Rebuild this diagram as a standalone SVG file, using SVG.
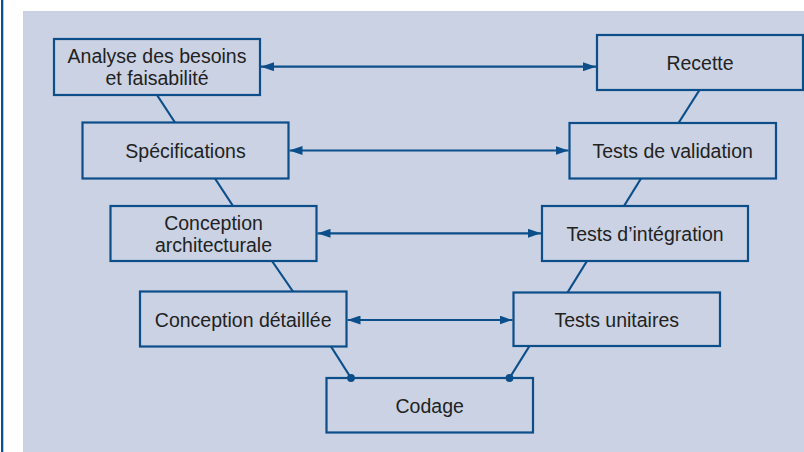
<svg xmlns="http://www.w3.org/2000/svg" width="804" height="452" viewBox="0 0 804 452">
<style>
.box{fill:none;stroke:#0b4e8a;stroke-width:2.2}
.ln{stroke:#0b4e8a;stroke-width:2.2;fill:none}
.arr{stroke:#0b4e8a;stroke-width:2.2;fill:none;marker-start:url(#ah);marker-end:url(#ah)}
text{font-family:"Liberation Sans",Arial,sans-serif;font-size:19.5px;fill:#222;text-anchor:middle}
</style>
<defs>
<marker id="ah" markerUnits="userSpaceOnUse" markerWidth="13" markerHeight="9" refX="13" refY="4.5" orient="auto-start-reverse">
<path d="M0,0 L13,4.5 L0,9 Z" fill="#0b4e8a"/>
</marker>
</defs>
<rect x="0" y="0" width="804" height="452" fill="#fff"/>
<rect x="1" y="0" width="2.3" height="452" fill="#0b4e8a"/>
<rect x="23" y="11" width="781" height="441" fill="#cad2e3"/>
<g id="connectors">
<line class="ln" x1="157" y1="95" x2="175" y2="122.5"/>
<line class="ln" x1="699.5" y1="90" x2="678.5" y2="123"/>
<line class="ln" x1="215" y1="178.5" x2="233" y2="206"/>
<line class="ln" x1="641" y1="178.5" x2="624" y2="206"/>
<line class="ln" x1="272" y1="261" x2="293" y2="291.5"/>
<line class="ln" x1="587" y1="261" x2="567.5" y2="292.5"/>
<line class="ln" x1="331" y1="346.5" x2="351" y2="378"/>
<line class="ln" x1="529.5" y1="346" x2="509.5" y2="378"/>
<circle cx="351" cy="378" r="3.9" fill="#0b4e8a"/>
<circle cx="509.5" cy="378" r="3.9" fill="#0b4e8a"/>
<line class="arr" x1="261" y1="66.7" x2="596" y2="66.7"/>
<line class="arr" x1="289.5" y1="150.5" x2="568.5" y2="150.5"/>
<line class="arr" x1="317.5" y1="233.3" x2="541" y2="233.3"/>
<line class="arr" x1="347.5" y1="320" x2="512.5" y2="320"/>
</g>
<g id="analyse"><rect class="box" x="54" y="39" width="206" height="56"/><text x="157" y="63.3">Analyse des besoins</text><text x="157" y="85">et faisabilité</text></g>
<g id="recette"><rect class="box" x="597" y="35" width="206" height="55"/><text x="700" y="69.5">Recette</text></g>
<g id="specifications"><rect class="box" x="82.5" y="122.5" width="206" height="56"/><text x="185.5" y="158">Spécifications</text></g>
<g id="tests-validation"><rect class="box" x="569.5" y="123" width="206.5" height="55.5"/><text x="672.7" y="158">Tests de validation</text></g>
<g id="conception-architecturale"><rect class="box" x="110.5" y="206" width="206" height="55"/><text x="213.5" y="230">Conception</text><text x="213.5" y="252.3">architecturale</text></g>
<g id="tests-integration"><rect class="box" x="542" y="206" width="206" height="55"/><text x="645" y="240.5">Tests d’intégration</text></g>
<g id="conception-detaillee"><rect class="box" x="140" y="291.5" width="206.5" height="55"/><text x="243.2" y="326.5">Conception détaillée</text></g>
<g id="tests-unitaires"><rect class="box" x="513.5" y="292.5" width="206.5" height="53.5"/><text x="616.7" y="326.5">Tests unitaires</text></g>
<g id="codage"><rect class="box" x="326.5" y="378" width="206.5" height="54.5"/><text x="429.7" y="412.5">Codage</text></g>
</svg>
